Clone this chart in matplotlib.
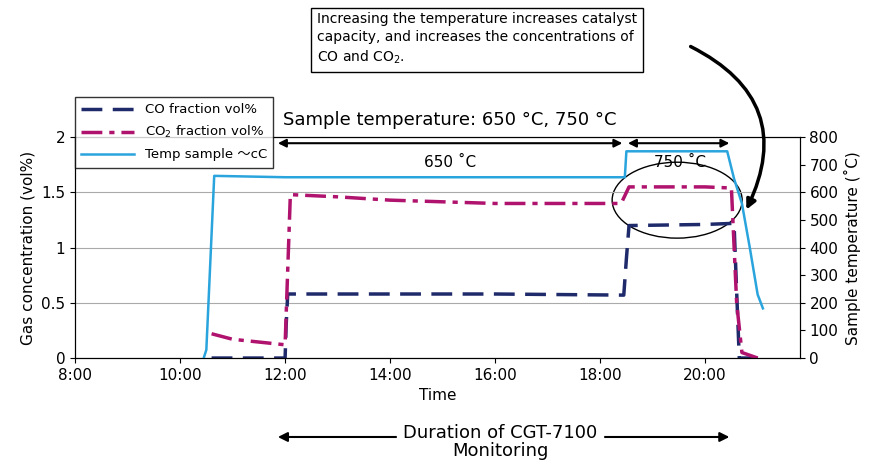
import matplotlib.pyplot as plt
from matplotlib.patches import Ellipse

# Time in hours
co_t = [10.6, 12.0, 12.02, 12.05, 14.0, 16.0, 18.45, 18.5, 18.55, 20.0, 20.55, 20.6, 20.65, 21.0]
co_v = [0.0, 0.0, 0.3, 0.58, 0.58, 0.58, 0.57, 0.9, 1.2, 1.21, 1.22, 0.6, 0.0, 0.0]

co2_t = [10.6, 11.0, 12.0, 12.05, 12.1, 13.0, 14.0, 16.0, 18.4, 18.5, 18.55, 20.0, 20.5, 20.6, 20.7, 21.0]
co2_v = [0.22, 0.17, 0.12, 0.8, 1.48, 1.46, 1.43, 1.4, 1.4, 1.5, 1.55, 1.55, 1.54, 0.5, 0.05, 0.0]

temp_t = [10.45, 10.5, 10.65, 12.0, 16.0, 18.47, 18.5, 20.42, 20.55, 20.7, 20.85, 21.0, 21.1]
temp_v = [0, 30, 660, 655, 655, 655, 749, 749, 650, 560, 400, 230, 180]

xticks = [8, 10, 12, 14, 16, 18, 20]
xlabels = ["8:00", "10:00", "12:00", "14:00", "16:00", "18:00", "20:00"]

plt.rcParams['font.family'] = ['DejaVu Sans', 'Noto Sans CJK JP']
fig = plt.figure(figsize=(8.73, 4.62), dpi=100)
ax = fig.add_axes([0.086, 0.225, 0.83, 0.478])
ax2 = ax.twinx()

l1, = ax.plot(co_t, co_v, color="#1f2a6b", linewidth=2.5, dashes=(6, 3), label="CO fraction vol%")
l2, = ax.plot(co2_t, co2_v, color="#b0136e", linewidth=2.5, dashes=(6, 2, 1.5, 2), label="CO$_2$ fraction vol%")
l3, = ax2.plot(temp_t, temp_v, color="#2aa4dd", linewidth=1.8, label="Temp sample ～cC")

ax.set_xlim(8, 21.8)
ax.set_ylim(0, 2)
ax2.set_ylim(0, 800)
ax.set_yticks([0, 0.5, 1, 1.5, 2])
ax.set_yticklabels(["0", "0.5", "1", "1.5", "2"])
ax2.set_yticks(range(0, 900, 100))
ax.set_xticks(xticks)
ax.set_xticklabels(xlabels)
ax.grid(axis="y", color="#aaaaaa", linewidth=0.8)
ax.tick_params(labelsize=11)
ax2.tick_params(labelsize=11)
ax.set_ylabel("Gas concentration (vol%)", fontsize=11)
ax2.set_ylabel("Sample temperature (˚C)", fontsize=11)
ax.set_xlabel("Time", fontsize=11)

fig.legend(handles=[l1, l2, l3], loc="upper left", bbox_to_anchor=(0.078, 0.805),
           fontsize=9.5, frameon=True, fancybox=False, edgecolor="black", handlelength=4,
           labelspacing=0.6, borderpad=0.5)

def px(x):
    return 8 + (x - 75) / 52.5

def py(y):
    return (358 - y) / 110.5

arr = dict(arrowstyle="<|-|>", color="black", lw=1.5, mutation_scale=12)
ax.annotate("", xy=(px(275), py(143)), xytext=(px(625), py(143)), arrowprops=arr, annotation_clip=False)
ax.annotate("", xy=(px(625), py(143)), xytext=(px(732), py(143)), arrowprops=arr, annotation_clip=False)
ax.text(px(450), py(120), "Sample temperature: 650 °C, 750 °C", ha="center", va="center", fontsize=13)
ax.text(px(450), py(162), "650 ˚C", ha="center", va="center", fontsize=11)
ax.text(px(680), py(162), "750 ˚C", ha="center", va="center", fontsize=11)

arr2 = dict(arrowstyle="<|-|>", color="black", lw=1.5, mutation_scale=14)
ax.annotate("", xy=(px(275), py(437)), xytext=(px(732), py(437)), arrowprops=arr2, annotation_clip=False)
ax.text(px(500), py(442), "Duration of CGT-7100\nMonitoring", ha="center", va="center", fontsize=13,
        backgroundcolor="white", linespacing=1.0)

ax.add_patch(Ellipse((px(677), py(200)), 130 / 52.5, 76 / 110.5, fill=False, color="black", lw=1, clip_on=False))

fig.text(0.363, 0.915, "Increasing the temperature increases catalyst\ncapacity, and increases the concentrations of\nCO and CO$_2$.",
         fontsize=10, va="center", ha="left", linespacing=1.35,
         bbox=dict(facecolor="white", edgecolor="black", boxstyle="square,pad=0.4"))
ax.annotate("", xy=(px(745), py(212)), xytext=(px(688), py(45)),
            arrowprops=dict(arrowstyle="-|>", color="black", lw=2.5, mutation_scale=14,
                            connectionstyle="arc3,rad=-0.5"), annotation_clip=False)

fig.savefig("out.png", dpi=100)
